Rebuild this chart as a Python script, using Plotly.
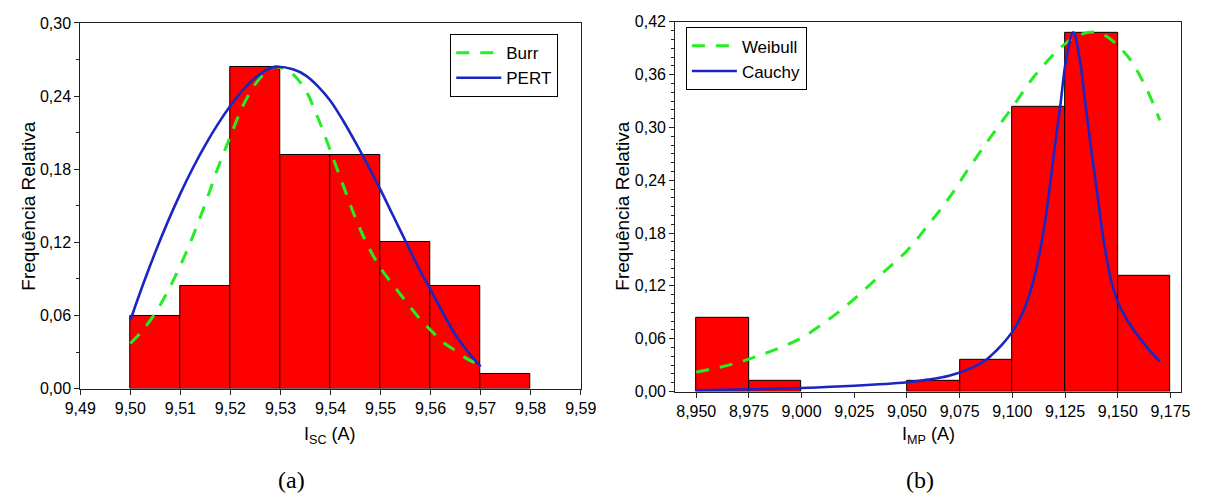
import plotly.graph_objects as go

# ---------------- data: chart (a) ----------------
isc_bin_left = [9.50, 9.51, 9.52, 9.53, 9.54, 9.55, 9.56, 9.57]
isc_freq = [0.060, 0.084, 0.264, 0.192, 0.192, 0.120, 0.084, 0.012]
isc_bin_width = 0.01

burr_x = [9.500, 9.5025, 9.505, 9.5075, 9.510, 9.5125, 9.515, 9.5175, 9.520, 9.5225,
          9.525, 9.5275, 9.529, 9.531, 9.5325, 9.535, 9.5375, 9.540, 9.5425, 9.545,
          9.5475, 9.550, 9.5525, 9.555, 9.5575, 9.560, 9.5625, 9.565, 9.5675, 9.570]
burr_y = [0.037, 0.048, 0.062, 0.080, 0.101, 0.125, 0.152, 0.181, 0.207, 0.232,
          0.250, 0.261, 0.264, 0.262, 0.258, 0.245, 0.222, 0.195, 0.167, 0.140,
          0.117, 0.099, 0.085, 0.072, 0.059, 0.048, 0.038, 0.031, 0.024, 0.019]

pert_x = [9.500, 9.5025, 9.505, 9.5075, 9.510, 9.5125, 9.515, 9.5175, 9.520, 9.5225,
          9.525, 9.5275, 9.529, 9.5325, 9.535, 9.5375, 9.540, 9.5425, 9.545, 9.5475,
          9.550, 9.5525, 9.555, 9.5575, 9.560, 9.5625, 9.565, 9.5675, 9.570]
pert_y = [0.056, 0.085, 0.112, 0.137, 0.160, 0.181, 0.200, 0.217, 0.232, 0.245,
          0.255, 0.262, 0.264, 0.262, 0.257, 0.248, 0.236, 0.220, 0.202, 0.183,
          0.163, 0.142, 0.121, 0.100, 0.081, 0.062, 0.044, 0.030, 0.018]

# ---------------- data: chart (b) ----------------
imp_bin_left = [8.950, 8.975, 9.000, 9.025, 9.050, 9.075, 9.100, 9.125, 9.150]
imp_freq = [0.084, 0.012, None, None, 0.012, 0.036, 0.324, 0.408, 0.132]
imp_bin_width = 0.025

weibull_x = [8.950, 8.960, 8.970, 8.980, 8.990, 9.000, 9.010, 9.020, 9.030, 9.040,
             9.050, 9.060, 9.070, 9.080, 9.090, 9.100, 9.110, 9.120, 9.125, 9.130,
             9.136, 9.140, 9.145, 9.150, 9.155, 9.160, 9.165, 9.170]
weibull_y = [0.022, 0.027, 0.033, 0.041, 0.050, 0.061, 0.077, 0.095, 0.116, 0.138,
             0.160, 0.189, 0.220, 0.256, 0.290, 0.323, 0.357, 0.384, 0.395, 0.403,
             0.408, 0.408, 0.403, 0.393, 0.380, 0.361, 0.337, 0.308]

cauchy_x = [8.950, 8.975, 9.000, 9.025, 9.050, 9.060, 9.070, 9.080, 9.087, 9.090,
            9.095, 9.100, 9.105, 9.110, 9.115, 9.120, 9.1228, 9.1255, 9.1289, 9.132,
            9.1347, 9.137, 9.140, 9.1434, 9.147, 9.1505, 9.155, 9.160, 9.165, 9.170]
cauchy_y = [0.0015, 0.0025, 0.0040, 0.0065, 0.0105, 0.0135, 0.0180, 0.0260, 0.0350, 0.0410,
            0.0530, 0.0680, 0.0900, 0.1260, 0.1850, 0.2750, 0.3260, 0.3770, 0.4080, 0.3770,
            0.3260, 0.2820, 0.2300, 0.1700, 0.1250, 0.0990, 0.0790, 0.0620, 0.0470, 0.0340]

# ---------------- text ----------------
ylabel = "Frequência Relativa"
xlabel_a = "I<sub>SC</sub> (A)"
xlabel_b = "I<sub>MP</sub> (A)"
panel_a = "(a)"
panel_b = "(b)"

W, H = 1215, 500
GREEN = "#22EE22"
BLUE = "#1A26C4"
SANS = "Liberation Sans, Arial, sans-serif"
SERIF = "Liberation Serif, Times New Roman, serif"


def px_x(p):
    return p / W


def px_y(p):
    return 1 - p / H


fig = go.Figure()

fig.add_trace(go.Bar(x=isc_bin_left, y=isc_freq, width=isc_bin_width, offset=0,
                     marker=dict(color="#FF0000", line=dict(color="black", width=1)),
                     showlegend=False, xaxis="x", yaxis="y"))
fig.add_trace(go.Scatter(x=burr_x, y=burr_y, mode="lines", name="Burr",
                         line=dict(color=GREEN, width=3, dash="13px,11px", shape="spline"),
                         xaxis="x", yaxis="y", legend="legend"))
fig.add_trace(go.Scatter(x=pert_x, y=pert_y, mode="lines", name="PERT",
                         line=dict(color=BLUE, width=2.6, shape="spline"),
                         xaxis="x", yaxis="y", legend="legend"))

fig.add_trace(go.Bar(x=imp_bin_left, y=imp_freq, width=imp_bin_width, offset=0,
                     marker=dict(color="#FF0000", line=dict(color="black", width=1)),
                     showlegend=False, xaxis="x2", yaxis="y2"))
fig.add_trace(go.Scatter(x=weibull_x, y=weibull_y, mode="lines", name="Weibull",
                         line=dict(color=GREEN, width=3, dash="13px,11px", shape="spline"),
                         xaxis="x2", yaxis="y2", legend="legend2"))
fig.add_trace(go.Scatter(x=cauchy_x, y=cauchy_y, mode="lines", name="Cauchy",
                         line=dict(color=BLUE, width=2.6, shape="spline"),
                         xaxis="x2", yaxis="y2", legend="legend2"))

axis_common = dict(showline=True, linecolor="#222", linewidth=1, mirror=True,
                   ticks="outside", ticklen=5, tickcolor="#222", showgrid=False,
                   zeroline=False, tickfont=dict(family=SANS, size=16, color="black"))

legend_common = dict(xanchor="left", yanchor="top", bordercolor="black", borderwidth=1,
                     bgcolor="white", font=dict(family=SANS, size=17, color="black"),
                     tracegroupgap=0, itemwidth=45)

fig.update_layout(
    width=W, height=H, margin=dict(l=0, r=0, t=0, b=0),
    paper_bgcolor="white", plot_bgcolor="white",
    separators=",.", bargap=0,
    xaxis=dict(domain=[px_x(66), px_x(580)], range=[9.49, 9.59],
               tick0=9.49, dtick=0.01, tickformat=".2f", anchor="y", **axis_common),
    yaxis=dict(domain=[px_y(394), px_y(15.5)], range=[0, 0.30],
               tick0=0, dtick=0.06, tickformat=".2f", anchor="x",
               minor=dict(ticks="outside", ticklen=3, tick0=0, dtick=0.03, tickcolor="#222"),
               **axis_common),
    xaxis2=dict(domain=[px_x(677), px_x(1196.5)], range=[8.94, 9.18],
                tick0=8.95, dtick=0.025, tickformat=".3f", anchor="y2", **axis_common),
    yaxis2=dict(domain=[px_y(397), px_y(14.3)], range=[0, 0.42],
                tick0=0, dtick=0.06, tickformat=".2f", anchor="x2",
                minor=dict(ticks="outside", ticklen=3, tick0=0, dtick=0.01, tickcolor="#222"),
                **axis_common),
    legend=dict(x=px_x(446), y=px_y(27), **legend_common),
    legend2=dict(x=px_x(688), y=px_y(20), **legend_common),
    annotations=[
        dict(text=ylabel, x=px_x(12), y=px_y(205), xref="paper", yref="paper",
             textangle=-90, showarrow=False, xanchor="center", yanchor="middle",
             font=dict(family=SANS, size=19, color="black")),
        dict(text=ylabel, x=px_x(622), y=px_y(205), xref="paper", yref="paper",
             textangle=-90, showarrow=False, xanchor="center", yanchor="middle",
             font=dict(family=SANS, size=19, color="black")),
        dict(text=xlabel_a, x=px_x(322), y=px_y(443), xref="paper", yref="paper",
             showarrow=False, xanchor="center", yanchor="middle",
             font=dict(family=SANS, size=18, color="black")),
        dict(text=xlabel_b, x=px_x(937), y=px_y(443), xref="paper", yref="paper",
             showarrow=False, xanchor="center", yanchor="middle",
             font=dict(family=SANS, size=18, color="black")),
        dict(text=panel_a, x=px_x(283), y=px_y(489), xref="paper", yref="paper",
             showarrow=False, xanchor="center", yanchor="middle",
             font=dict(family=SERIF, size=24, color="black")),
        dict(text=panel_b, x=px_x(928), y=px_y(489), xref="paper", yref="paper",
             showarrow=False, xanchor="center", yanchor="middle",
             font=dict(family=SERIF, size=24, color="black")),
    ],
)

fig.write_html("out.html")
